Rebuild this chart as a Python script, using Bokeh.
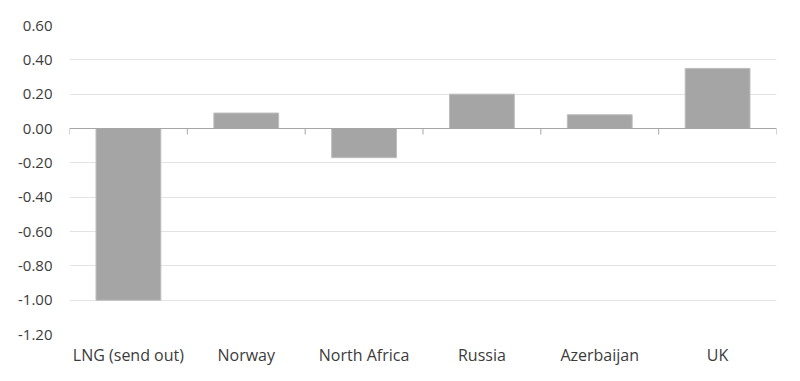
from bokeh.plotting import figure
from bokeh.models import Range1d, FixedTicker, ColumnDataSource, Span
from bokeh.embed import file_html
from bokeh.resources import INLINE

categories = ["LNG (send out)", "Norway", "North Africa", "Russia", "Azerbaijan", "UK"]
values = [-1.00, 0.09, -0.17, 0.20, 0.08, 0.35]
y_ticks = [-1.2, -1.0, -0.8, -0.6, -0.4, -0.2, 0.0, 0.2, 0.4, 0.6]

n = len(categories)
centers = [i + 0.5 for i in range(n)]

p = figure(width=784, height=373, output_backend="svg", toolbar_location=None,
           x_range=Range1d(0, n), y_range=Range1d(-1.2, 0.6),
           min_border_left=69, min_border_right=8, min_border_top=25, min_border_bottom=39)
p.outline_line_color = None
p.background_fill_color = "white"
p.border_fill_color = "white"

src = ColumnDataSource(dict(x=centers, top=values))
p.vbar(x="x", top="top", bottom=0, width=0.55, source=src,
       fill_color="#a5a5a5", line_color="#bdbdbd", line_width=1)

# zero line and boundary tick marks
p.add_layout(Span(location=0, dimension="width", line_color="#a6a6a6", line_width=1))
bx = list(range(n + 1))
p.segment(x0=bx, x1=bx, y0=[0] * len(bx), y1=[-0.035] * len(bx), line_color="#a6a6a6", line_width=1)

p.xaxis.ticker = FixedTicker(ticks=centers)
p.xaxis.major_label_overrides = {c: lab for c, lab in zip(centers, categories)}
p.xaxis.axis_line_color = None
p.xaxis.major_tick_line_color = None
p.xaxis.minor_tick_line_color = None
p.xaxis.major_label_standoff = 3
p.xgrid.grid_line_color = None

p.yaxis.ticker = FixedTicker(ticks=y_ticks)
p.yaxis.major_label_overrides = {t: f"{t:.2f}" for t in y_ticks}
p.yaxis.axis_line_color = None
p.yaxis.major_tick_line_color = None
p.yaxis.minor_tick_line_color = None
p.yaxis.major_label_standoff = 11
p.ygrid.grid_line_color = "#e3e3e3"
p.ygrid.ticker = FixedTicker(ticks=y_ticks)

for ax in (p.xaxis, p.yaxis):
    ax.major_label_text_font = "Open Sans"
    ax.major_label_text_color = "#3c3c3c"
p.xaxis.major_label_text_font_size = "16px"
p.yaxis.major_label_text_font_size = "15px"

open("out.html", "w").write(file_html(p, INLINE))
